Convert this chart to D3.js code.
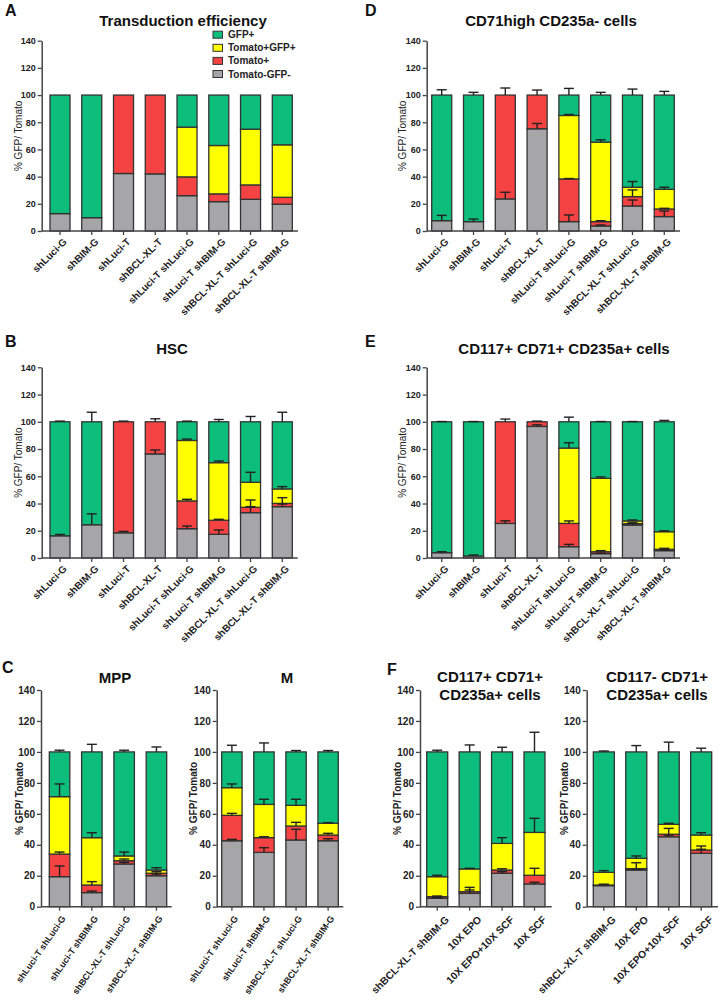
<!DOCTYPE html>
<html><head><meta charset="utf-8">
<script src="https://cdn.jsdelivr.net/npm/d3@7/dist/d3.min.js"></script>
<style>
html,body{margin:0;padding:0;background:#fff;}
svg{display:block;font-family:"Liberation Sans",Arial,sans-serif;}
</style></head>
<body>
<svg id="chart" width="721" height="1000"></svg>
<script>
// ---------- categories ----------
const catsMain = ['shLuci-G','shBIM-G','shLuci-T','shBCL-XL-T','shLuci-T shLuci-G','shLuci-T shBIM-G','shBCL-XL-T shLuci-G','shBCL-XL-T shBIM-G'];
const catsC = ['shLuci-T shLuci-G','shLuci-T shBIM-G','shBCL-XL-T shLuci-G','shBCL-XL-T shBIM-G'];
const catsF = ['shBCL-XL-T shBIM-G','10X EPO','10X EPO+10X SCF','10X SCF'];
const yTicks = [0,20,40,60,80,100,120,140];

// ---------- series (segment heights, %) ----------
// A: Transduction efficiency
const A_gray   = [12.8, 9.8, 42.3, 42.0, 26.0, 21.6, 23.3, 19.7];
const A_red    = [0, 0, 57.7, 58.0, 13.8, 5.7, 10.6, 5.1];
const A_yellow = [0, 0, 0, 0, 36.6, 35.6, 41.0, 38.6];
const A_green  = [87.2, 90.2, 0, 0, 23.6, 37.1, 25.1, 36.6];

// D: CD71high CD235a- cells
const D_gray   = [7.6, 6.9, 23.6, 75.2, 6.9, 3.7, 18.4, 10.6];
const D_red    = [0, 0, 76.4, 24.8, 31.4, 3.2, 6.9, 5.6];
const D_yellow = [0, 0, 0, 0, 46.7, 58.5, 6.9, 14.5];
const D_green  = [92.4, 93.1, 0, 0, 15.0, 34.6, 67.8, 69.3];
const D_grayErr   = [3.9, 1.9, 4.9, 3.9, 4.9, 0.7, 4.4, 4.1];
const D_redErr    = [0, 0, 5.2, 3.7, 0.3, 0.7, 4.9, 0.5];
const D_yellowErr = [0, 0, 0, 0, 0.7, 1.7, 4.2, 1.5];
const D_greenErr  = [3.9, 2.0, 0, 0, 4.9, 2.0, 4.4, 2.7];

// B: HSC
const B_gray   = [16.3, 24.4, 18.5, 76.4, 21.5, 17.4, 33.3, 37.7];
const B_red    = [0, 0, 81.5, 23.6, 20.4, 10.3, 3.9, 2.4];
const B_yellow = [0, 0, 0, 0, 44.4, 42.3, 18.4, 10.6];
const B_green  = [83.7, 75.6, 0, 0, 13.7, 30.0, 44.4, 49.3];
const B_grayErr   = [1.0, 8.0, 1.0, 2.9, 2.0, 3.2, 4.4, 1.9];
const B_redErr    = [0, 0, 0.5, 2.2, 1.2, 0.7, 5.4, 4.2];
const B_yellowErr = [0, 0, 0, 0, 1.0, 1.2, 7.3, 1.7];
const B_greenErr  = [0.5, 7.0, 0, 0, 0.5, 1.7, 3.9, 7.0];

// E: CD117+ CD71+ CD235a+ cells
const E_gray   = [3.9, 1.5, 25.4, 96.6, 8.3, 3.2, 24.2, 5.4];
const E_red    = [0, 0, 74.6, 3.4, 17.1, 1.4, 1.0, 1.0];
const E_yellow = [0, 0, 0, 0, 55.3, 53.9, 2.0, 12.9];
const E_green  = [96.1, 98.5, 0, 0, 19.3, 41.5, 72.8, 80.7];
const E_grayErr   = [0.7, 0.7, 1.9, 1.2, 1.7, 0.3, 1.2, 0.5];
const E_redErr    = [0, 0, 2.0, 0.5, 1.8, 0.8, 0.6, 0.7];
const E_yellowErr = [0, 0, 0, 0, 3.9, 1.0, 0.7, 0.7];
const E_greenErr  = [0.2, 0.2, 0, 0, 3.4, 0.2, 0.2, 1.0];

// C: MPP
const MPP_gray   = [19.4, 9.1, 27.6, 20.0];
const MPP_red    = [14.6, 4.9, 2.1, 1.6];
const MPP_yellow = [37.1, 30.6, 3.1, 2.1];
const MPP_green  = [28.9, 55.4, 67.2, 76.3];
const MPP_grayErr   = [6.9, 1.0, 1.1, 1.1];
const MPP_redErr    = [1.3, 2.2, 1.1, 1.0];
const MPP_yellowErr = [8.2, 3.2, 2.5, 1.5];
const MPP_greenErr  = [1.1, 4.9, 1.1, 3.2];

// C: M
const M_gray   = [42.6, 35.1, 43.1, 42.6];
const M_red    = [16.4, 9.5, 9.0, 3.7];
const M_yellow = [17.9, 21.5, 13.4, 7.6];
const M_green  = [23.1, 33.9, 34.5, 46.1];
const M_grayErr   = [0.9, 3.0, 6.9, 1.3];
const M_redErr    = [1.3, 0.6, 2.4, 1.1];
const M_yellowErr = [2.4, 3.3, 3.9, 0.4];
const M_greenErr  = [4.3, 5.8, 0.9, 0.9];

// F: CD117+ CD71+ CD235a+ cells
const F1_gray   = [5.4, 8.6, 21.6, 14.7];
const F1_red    = [1.1, 1.1, 2.1, 5.6];
const F1_yellow = [12.9, 14.7, 17.2, 27.7];
const F1_green  = [80.6, 75.6, 59.1, 52.0];
const F1_grayErr   = [0.5, 2.2, 1.0, 1.1];
const F1_redErr    = [0.4, 2.8, 0.8, 4.5];
const F1_yellowErr = [0.9, 0.4, 3.7, 9.1];
const F1_greenErr  = [1.1, 4.5, 3.0, 12.7];

// F: CD117- CD71+ CD235a+ cells
const F2_gray   = [13.6, 23.7, 45.2, 34.5];
const F2_red    = [0.4, 0.9, 1.6, 2.1];
const F2_yellow = [8.2, 6.7, 6.4, 9.7];
const F2_green  = [77.8, 68.7, 46.8, 53.7];
const F2_grayErr   = [0.9, 0.5, 1.1, 2.6];
const F2_redErr    = [0.3, 3.8, 3.8, 2.6];
const F2_yellowErr = [1.1, 1.5, 0.7, 1.5];
const F2_greenErr  = [0.6, 4.1, 6.3, 2.4];

const seriesKeys = ['gray','red','yellow','green'];
const legendItems = [['green','GFP+'],['yellow','Tomato+GFP+'],['red','Tomato+'],['gray','Tomato-GFP-']];
const colors = {gray:'#a6a6a8', red:'#f54343', yellow:'#ffff00', green:'#0cbd7b'};

const svg = d3.select('#chart');

function drawPanel(cfg, cats, vals, errs){
  const g = svg.append('g');
  const rows = cats.map((c,i)=>{const r={cat:c}; seriesKeys.forEach(k=>r[k]=vals[k][i]); return r;});
  const stacked = d3.stack().keys(seriesKeys)(rows);
  const y = d3.scaleLinear().domain([0,140]).range([cfg.y0, cfg.yTop]);
  const x = d3.scaleBand().domain(cats).range([cfg.barL, cfg.barR]).paddingInner(cfg.pad).paddingOuter(0);

  // bars
  stacked.forEach(s=>{
    g.selectAll(null).data(s.filter(d=>d[1]-d[0]>0)).join('rect')
      .attr('x', d=>x(d.data.cat)).attr('width', x.bandwidth())
      .attr('y', d=>y(d[1])).attr('height', d=>y(d[0])-y(d[1]))
      .attr('fill', colors[s.key]).attr('stroke','#333').attr('stroke-width',1.3);
  });
  // error bars
  if(errs){
    stacked.forEach(s=>{
      s.forEach((d,i)=>{
        const e = errs[s.key][i];
        if(!(e>0) || d[1]-d[0]<=0) return;
        const cx = x(d.data.cat)+x.bandwidth()/2;
        const yt = y(d[1]+e);
        g.append('line').attr('x1',cx).attr('x2',cx).attr('y1',y(d[1])).attr('y2',yt)
          .attr('stroke','#222').attr('stroke-width',1.4);
        g.append('line').attr('x1',cx-5).attr('x2',cx+5).attr('y1',yt).attr('y2',yt)
          .attr('stroke','#222').attr('stroke-width',1.4);
      });
    });
  }
  // y axis
  const ya = g.append('g').attr('transform',`translate(${cfg.axisX},0)`)
    .call(d3.axisLeft(y).tickValues(yTicks).tickSize(4).tickSizeOuter(0).tickPadding(2));
  ya.select('.domain').attr('stroke','#444').attr('stroke-width',1.5);
  ya.selectAll('.tick line').attr('stroke','#444').attr('stroke-width',1.3);
  ya.selectAll('.tick text').attr('fill','#222').style('font-size',cfg.tfs+'px').style('font-weight','bold');

  // x axis
  const xa = g.append('g').attr('transform',`translate(0,${cfg.y0})`)
    .call(d3.axisBottom(x).tickSize(4).tickSizeOuter(0));
  xa.select('.domain').remove();
  xa.append('line').attr('x1',cfg.axisX).attr('x2',cfg.axisEnd).attr('y1',0).attr('y2',0)
    .attr('stroke','#444').attr('stroke-width',1.5);
  xa.selectAll('.tick line').attr('stroke','#444').attr('stroke-width',1.3);
  xa.selectAll('.tick text')
    .attr('x',0).attr('y',0).attr('dy','0.35em')
    .attr('transform',`translate(${cfg.ldx},${cfg.ldy}) rotate(${cfg.rot})`)
    .style('text-anchor','end').attr('fill','#222')
    .style('font-size',cfg.lfs+'px').style('font-weight','bold');

  // y title
  g.append('text').attr('transform',`translate(${cfg.ytX},${(cfg.y0+cfg.yTop)/2}) rotate(-90)`)
    .attr('text-anchor','middle').attr('dy','0.35em').style('font-size',cfg.ytFs+'px')
    .style('font-weight',cfg.ytW).attr('fill','#222')
    .text('% GFP/ Tomato');

  // title
  cfg.title.forEach((t,i)=>{
    g.append('text').attr('x',cfg.tX).attr('y',cfg.tY+i*18).attr('text-anchor','middle')
      .style('font-size','15px').style('font-weight','bold').attr('fill','#111').text(t);
  });
  if(cfg.letter){
    g.append('text').attr('x',cfg.lX).attr('y',cfg.lY).style('font-size','16px')
      .style('font-weight','bold').attr('fill','#111').text(cfg.letter);
  }
  if(cfg.legend){
    const lg = g.append('g');
    legendItems.forEach(([k,lab],i)=>{
      const cy = 34.7 + i*13.1;
      lg.append('rect').attr('x',213).attr('y',cy-3.5).attr('width',9.5).attr('height',7)
        .attr('fill',colors[k]).attr('stroke','#333').attr('stroke-width',1);
      lg.append('text').attr('x',228).attr('y',cy).attr('dy','0.35em')
        .style('font-size','10px').style('font-weight','bold').attr('fill','#222').text(lab);
    });
  }
}

const pack = (g,r,yl,gr)=>({gray:g, red:r, yellow:yl, green:gr});

drawPanel({axisX:41.7, axisEnd:298, barL:50, barR:292.3, pad:0.37, y0:231, yTop:40.7,
  rot:-45, ldx:5, ldy:9, lfs:10, tfs:9, ytX:18, ytFs:10, ytW:'normal', title:['Transduction efficiency'], tX:183, tY:26,
  letter:'A', lX:5, lY:16, legend:true},
  catsMain, pack(A_gray,A_red,A_yellow,A_green), null);

drawPanel({axisX:426.7, axisEnd:680, barL:431.7, barR:674.3, pad:0.37, y0:231, yTop:40.7,
  rot:-45, ldx:5, ldy:9, lfs:10, tfs:9, ytX:402, ytFs:10, ytW:'normal', title:['CD71high CD235a- cells'], tX:551, tY:26,
  letter:'D', lX:365, lY:16},
  catsMain, pack(D_gray,D_red,D_yellow,D_green), pack(D_grayErr,D_redErr,D_yellowErr,D_greenErr));

drawPanel({axisX:41.7, axisEnd:297.7, barL:50, barR:292.3, pad:0.37, y0:558, yTop:367.3,
  rot:-45, ldx:5, ldy:9, lfs:10, tfs:9, ytX:18, ytFs:10, ytW:'normal', title:['HSC'], tX:172, tY:354,
  letter:'B', lX:5, lY:347},
  catsMain, pack(B_gray,B_red,B_yellow,B_green), pack(B_grayErr,B_redErr,B_yellowErr,B_greenErr));

drawPanel({axisX:426.7, axisEnd:680, barL:431.7, barR:674.3, pad:0.37, y0:558, yTop:367.3,
  rot:-45, ldx:5, ldy:9, lfs:10, tfs:9, ytX:402, ytFs:10, ytW:'normal', title:['CD117+ CD71+ CD235a+ cells'], tX:564, tY:354,
  letter:'E', lX:365, lY:347},
  catsMain, pack(E_gray,E_red,E_yellow,E_green), pack(E_grayErr,E_redErr,E_yellowErr,E_greenErr));

drawPanel({axisX:41, axisEnd:171.7, barL:49.3, barR:166.7, pad:0.365, y0:906.7, yTop:690,
  rot:-55, ldx:4, ldy:10, lfs:9, tfs:10, ytX:19, ytFs:10, ytW:'bold', title:['MPP'], tX:115, tY:683,
  letter:'C', lX:2, lY:673},
  catsC, pack(MPP_gray,MPP_red,MPP_yellow,MPP_green), pack(MPP_grayErr,MPP_redErr,MPP_yellowErr,MPP_greenErr));

drawPanel({axisX:216.7, axisEnd:343.3, barL:221.7, barR:338.3, pad:0.365, y0:906.7, yTop:690,
  rot:-55, ldx:4, ldy:10, lfs:9, tfs:10, ytX:193, ytFs:10, ytW:'bold', title:['M'], tX:287, tY:683},
  catsC, pack(M_gray,M_red,M_yellow,M_green), pack(M_grayErr,M_redErr,M_yellowErr,M_greenErr));

drawPanel({axisX:420, axisEnd:551.7, barL:426.7, barR:545, pad:0.352, y0:906.7, yTop:690,
  rot:-45, ldx:10, ldy:11, lfs:10.3, tfs:10, ytX:397, ytFs:10, ytW:'bold', title:['CD117+ CD71+','CD235a+ cells'], tX:490, tY:682,
  letter:'F', lX:387, lY:675},
  catsF, pack(F1_gray,F1_red,F1_yellow,F1_green), pack(F1_grayErr,F1_redErr,F1_yellowErr,F1_greenErr));

drawPanel({axisX:586.7, axisEnd:718, barL:593.3, barR:711.7, pad:0.352, y0:906.7, yTop:690,
  rot:-45, ldx:10, ldy:11, lfs:10.3, tfs:10, ytX:564, ytFs:10, ytW:'bold', title:['CD117- CD71+','CD235a+ cells'], tX:657, tY:682},
  catsF, pack(F2_gray,F2_red,F2_yellow,F2_green), pack(F2_grayErr,F2_redErr,F2_yellowErr,F2_greenErr));
</script>
</body></html>
